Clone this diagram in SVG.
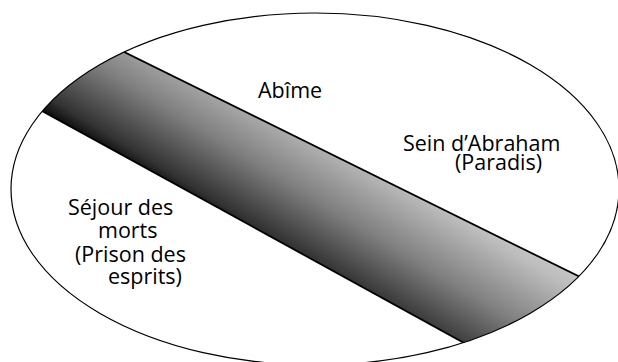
<svg xmlns="http://www.w3.org/2000/svg" width="618" height="362" viewBox="0 0 618 362">
  <style>
    .lbl { font-family: "Open Sans", "Liberation Sans", sans-serif; font-size: 21.5px; fill: #000; }
    .edge { stroke: #000; stroke-width: 1.8; fill: none; }
    .outline { stroke: #000; stroke-width: 1.2; fill: none; }
  </style>
  <defs>
    <linearGradient id="bandGrad" gradientUnits="userSpaceOnUse" x1="41.4" y1="116.2" x2="126.9" y2="-23.1">
      <stop offset="0" stop-color="#000"/>
      <stop offset="0.12" stop-color="#333"/>
      <stop offset="0.45" stop-color="#808080"/>
      <stop offset="0.8" stop-color="#bdbdbd"/>
      <stop offset="1" stop-color="#d0d0d0"/>
    </linearGradient>
    <clipPath id="ellClip">
      <ellipse cx="315" cy="189" rx="304" ry="176"/>
    </clipPath>
  </defs>
  <rect width="618" height="362" fill="#fff"/>
  <g id="abime-band" clip-path="url(#ellClip)">
    <polygon points="0,-9.2 620,296.7 620,428.7 0,87.8" fill="url(#bandGrad)"/>
    <line class="edge" x1="0" y1="-9.2" x2="620" y2="296.7"/>
    <line class="edge" x1="0" y1="87.8" x2="620" y2="428.7"/>
  </g>
  <g id="outline">
    <ellipse class="outline" cx="315" cy="189" rx="304" ry="176"/>
  </g>
  <g id="abime">
    <text class="lbl" x="258" y="98">Abîme</text>
  </g>
  <g id="paradis">
    <text class="lbl" x="403" y="151">Sein d’Abraham</text>
    <text class="lbl" x="455" y="170">(Paradis)</text>
  </g>
  <g id="sejour">
    <text class="lbl" x="68" y="215">Séjour des</text>
    <text class="lbl" x="98" y="238">morts</text>
    <text class="lbl" x="75" y="262">(Prison des</text>
    <text class="lbl" x="108" y="284">esprits)</text>
  </g>
  <g id="connectors"></g>
</svg>
